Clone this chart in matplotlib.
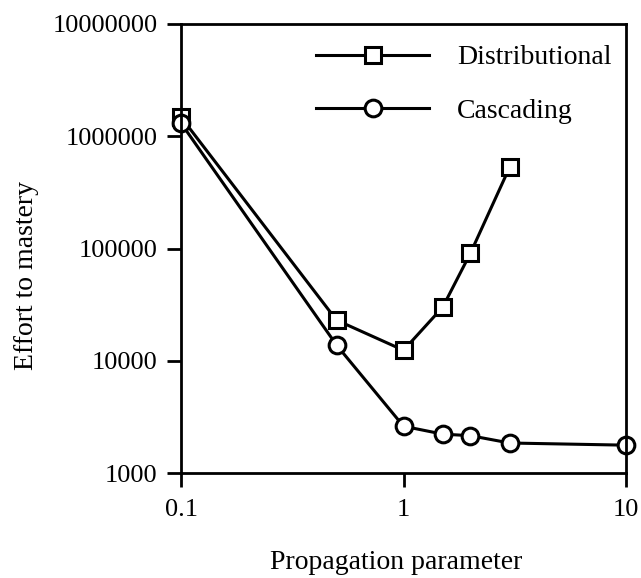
import matplotlib.pyplot as plt
from matplotlib.ticker import FixedLocator, NullLocator

# Дані
dist_x = [0.1, 0.5, 1.0, 1.5, 2.0, 3.0]
dist_y = [1480000, 23000, 12400, 30000, 91000, 530000]

casc_x = [0.1, 0.5, 1.0, 1.5, 2.0, 3.0, 10.0]
casc_y = [1310000, 13800, 2610, 2220, 2150, 1850, 1770]

x_ticks = [0.1, 1, 10]
x_labels = ["0.1", "1", "10"]
y_ticks = [1000, 10000, 100000, 1000000, 10000000]
y_labels = ["1000", "10000", "100000", "1000000", "10000000"]

plt.rcParams['font.family'] = ['Liberation Serif', 'DejaVu Serif']

fig = plt.figure(figsize=(6.41, 5.78), dpi=100)
ax = fig.add_axes([181 / 641, 1 - 473 / 578, (626 - 181) / 641, (473 - 24) / 578])

ax.plot(dist_x, dist_y, color='black', lw=2.2, marker='s', markersize=12,
        markerfacecolor='white', markeredgecolor='black', markeredgewidth=2.2,
        label='Distributional')
ax.plot(casc_x, casc_y, color='black', lw=2.2, marker='o', markersize=12,
        markerfacecolor='white', markeredgecolor='black', markeredgewidth=2.2,
        label='Cascading')
for line in ax.lines:
    line.set_clip_on(False)

ax.set_xscale('log')
ax.set_yscale('log')
ax.set_xlim(0.1, 10)
ax.set_ylim(1000, 10000000)

ax.xaxis.set_major_locator(FixedLocator(x_ticks))
ax.yaxis.set_major_locator(FixedLocator(y_ticks))
ax.xaxis.set_minor_locator(NullLocator())
ax.yaxis.set_minor_locator(NullLocator())
ax.set_xticklabels(x_labels)
ax.set_yticklabels(y_labels)
ax.tick_params(direction='out', length=10, width=2, labelsize=19)
ax.tick_params(axis='y', pad=7)
ax.tick_params(axis='x', pad=9)

for s in ax.spines.values():
    s.set_linewidth(2)

ax.set_xlabel("Propagation parameter", fontsize=20)
ax.set_ylabel("Effort to mastery", fontsize=20)
ax.xaxis.set_label_coords(0.483, -0.172)
ax.yaxis.set_label_coords(-0.318, 0.44)

ax.legend(loc='upper right', frameon=False, fontsize=20, handlelength=4.1,
          handletextpad=1.0, labelspacing=1.0, borderaxespad=0.0,
          bbox_to_anchor=(0.993, 0.978))

fig.savefig("out.png", dpi=100)
